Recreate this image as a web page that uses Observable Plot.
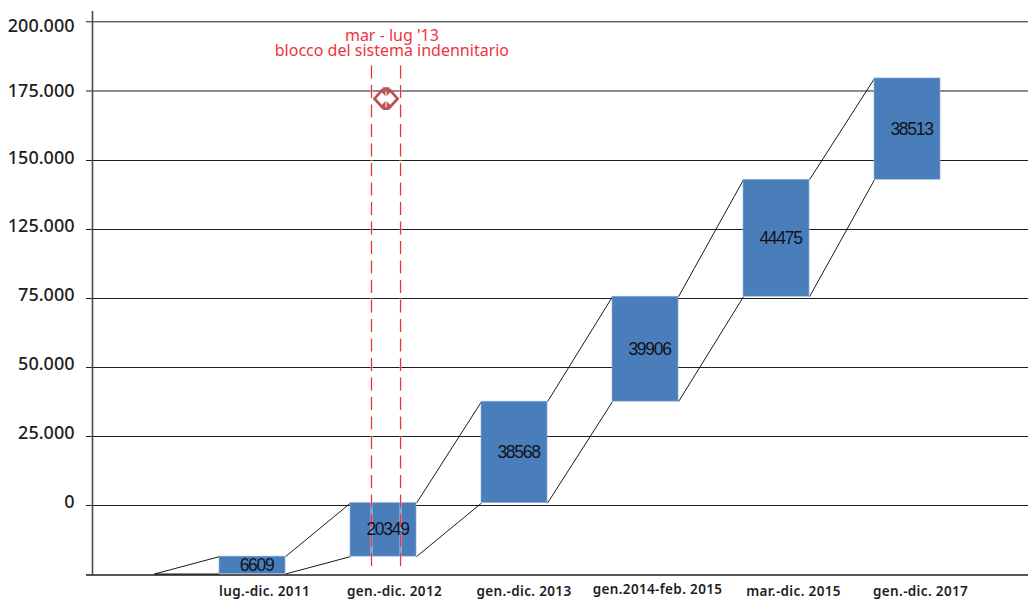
<!DOCTYPE html>
<html lang="it">
<head>
<meta charset="utf-8">
<title>Nuovi posti di lavoro</title>
<script src="https://cdn.jsdelivr.net/npm/d3@7"></script>
<script src="https://cdn.jsdelivr.net/npm/@observablehq/plot@0.6"></script>
<style>
  html, body { margin: 0; background: #fff; overflow: hidden; }
  svg { display: block; }
  .bar-values text { letter-spacing: -1.3px; }
  .period-labels text { letter-spacing: 0.35px; }
</style>
</head>
<body>
<div id="chart"></div>
<script>
// Periods and the increase recorded in each of them
const periods = ["lug.-dic. 2011", "gen.-dic. 2012", "gen.-dic. 2013", "gen.2014-feb. 2015", "mar.-dic. 2015", "gen.-dic. 2017"];
const increases = [6609, 20349, 38568, 39906, 44475, 38513];

// Gridlines and their printed labels (the printed scale skips 100.000)
const gridAt = [-380, 26050, 52280, 78520, 104750, 130990, 157220, 183650, 209960];
const tickLabelAt = [27190, 53610, 79850, 105890, 132320, 157980, 183380, 208290];
const tickLabels = ["0", "25.000", "50.000", "75.000", "125.000", "150.000", "175.000", "200.000"];

// Where each period label sits along the axis, and its vertical lift
const periodLabelAt = [0.344, 1.336, 2.324, 3.344, 4.382, 5.352];
const periodLabelLift = [0, 0, 0, 700, 0, 0];

// The block period: edges along the x axis and its two-line note
const blockEdges = [1.1603, 1.382];
const blockNote = ["mar - lug '13", "blocco del sistema indennitario"];

const barWidth = 0.504;
const ends = Array.from(d3.cumsum(increases));
const bars = increases.map((v, i) => ({i, v, lo: ends[i] - v, hi: ends[i]}));

// Each bar is tied to the previous one (or to the origin) by two slanted links
const links = bars.flatMap((b, i) => {
  const px = i - 1 + barWidth;
  const pLo = i === 0 ? 0 : bars[i - 1].lo;
  const pHi = i === 0 ? 0 : bars[i - 1].hi;
  return [
    {x1: px, y1: pHi, x2: i, y2: b.hi},
    {x1: px, y1: pLo, x2: i, y2: b.lo}
  ];
});

// Double arrow marking the length of the block: two chevrons joined by notched stubs
const notchedArrow = {
  draw(c, size) {
    const r = Math.sqrt(size) / 2;
    const w = r * 0.36;
    const h = r * 0.72;
    const stub = r * 0.17;
    c.moveTo(-w, -h);
    c.lineTo(-r, 0);
    c.lineTo(-w, h);
    c.lineTo(-stub, h * 0.72);
    c.lineTo(-stub, h * 1.2);
    c.lineTo(stub, h * 1.2);
    c.lineTo(stub, h * 0.72);
    c.lineTo(w, h);
    c.lineTo(r, 0);
    c.lineTo(w, -h);
    c.lineTo(stub, -h * 0.72);
    c.lineTo(stub, -h * 1.2);
    c.lineTo(-stub, -h * 1.2);
    c.lineTo(-stub, -h * 0.72);
    c.closePath();
  }
};

const textFont = "'Noto Sans', sans-serif";
const red = "#ee3340";

const chart = Plot.plot({
  width: 1028,
  height: 599,
  marginLeft: 86,
  marginRight: 0,
  marginTop: 0,
  marginBottom: 25.5,
  style: {background: "#fff", fontFamily: textFont, overflow: "visible"},
  x: {domain: [-1.0153, 6.1756], axis: null},
  y: {domain: [0, 218060], axis: null},
  marks: [
    Plot.ruleY(gridAt, {stroke: "#1c1c22", strokeWidth: (d, i) => i === 0 ? 1.6 : 1}),
    Plot.ruleX([-0.9695], {y1: -380, y2: 213860, stroke: "#4a4a52", strokeWidth: 1.6}),
    Plot.axisY(tickLabelAt, {
      tickSize: 0, tickPadding: 12, label: null, fontSize: 18, fontWeight: 500, fill: "#1d1d24",
      tickFormat: (d, i) => tickLabels[i]
    }),
    Plot.link(links, {x1: "x1", y1: "y1", x2: "x2", y2: "y2", stroke: "#000", strokeWidth: 0.9}),
    Plot.rectY(bars, {
      x1: "i", x2: d => d.i + barWidth, y1: "lo", y2: "hi",
      fill: "#4a7ebb", stroke: "#8db0da", strokeWidth: 0.6
    }),
    Plot.ruleX(blockEdges, {y1: 400, y2: 193200, stroke: "#fff", strokeOpacity: 0.3, strokeWidth: 3}),
    Plot.ruleX(blockEdges, {
      y1: 193200, y2: 400, stroke: red, strokeWidth: 1.3, strokeDasharray: "13 6.5"
    }),
    Plot.dot([1], {
      x: d3.mean(blockEdges), y: 180750, symbol: notchedArrow, r: 13,
      fill: "none", stroke: "#bc5350", strokeWidth: 2.8, strokeLinejoin: "miter"
    }),
    Plot.text(bars, {
      x: d => d.i + barWidth / 2, y: d => (d.lo + d.hi) / 2, dx: 4, text: d => String(d.v),
      fontSize: 17.5, fill: "#11131c", className: "bar-values", fontFamily: "'Liberation Sans', sans-serif"
    }),
    Plot.text(periods, {
      x: (d, i) => periodLabelAt[i], y: (d, i) => periodLabelLift[i], dy: 18,
      text: d => d, fontSize: 13.5, fontWeight: 600, fill: "#1d1d24", className: "period-labels"
    }),
    Plot.text(blockNote, {
      x: 1.316, y: (d, i) => i === 0 ? 204700 : 199000,
      text: d => d, fontSize: 16, fill: red
    })
  ]
});

document.getElementById("chart").append(chart);
</script>
</body>
</html>
